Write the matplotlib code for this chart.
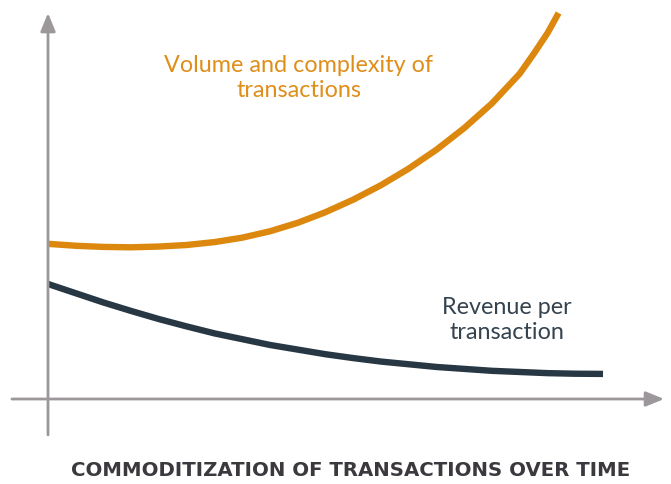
import matplotlib
matplotlib.use("Agg")
import matplotlib.pyplot as plt

# Conceptual curves (time units 0..10, value units 0..10)
vol_t = [0.0, 0.5, 1.0, 1.5, 2.0, 2.5, 3.0, 3.5, 4.0, 4.5, 5.0, 5.5, 6.0,
         6.5, 7.0, 7.5, 8.0, 8.5, 8.75, 9.0, 9.2]
vol_v = [4.02, 3.97, 3.94, 3.93, 3.95, 3.99, 4.065, 4.18, 4.345, 4.565, 4.84,
         5.165, 5.54, 5.97, 6.46, 7.02, 7.66, 8.43, 8.94, 9.48, 10.0]

rev_t = [0.0, 0.5, 1.0, 1.5, 2.0, 2.5, 3.0, 3.5, 4.0, 4.5, 5.0, 5.5, 6.0,
         6.5, 7.0, 7.5, 8.0, 8.5, 9.0, 9.5, 10.0]
rev_v = [2.98, 2.74, 2.50, 2.28, 2.07, 1.88, 1.70, 1.55, 1.40, 1.28, 1.16,
         1.06, 0.97, 0.90, 0.83, 0.78, 0.73, 0.70, 0.67, 0.655, 0.65]

label_volume = "Volume and complexity of\ntransactions"
label_revenue = "Revenue per\ntransaction"
x_title = "COMMODITIZATION OF TRANSACTIONS OVER TIME"

ORANGE = "#DC870E"
DARK = "#273744"
AXIS = "#9B979B"

fig = plt.figure(figsize=(6.71, 4.84), dpi=100)
ax = fig.add_axes([0, 0, 1, 1])
ax.set_xlim(-0.865, 11.225)
ax.set_ylim(-2.202, 10.337)
ax.axis("off")

arrow_style = "-|>,head_length=1.1,head_width=0.45"
ax.annotate("", xy=(0, 10.0), xytext=(0, -0.93),
            arrowprops=dict(arrowstyle=arrow_style, mutation_scale=10,
                            color=AXIS, lw=2.0, shrinkA=0, shrinkB=0))
ax.annotate("", xy=(11.1, 0), xytext=(-0.65, 0),
            arrowprops=dict(arrowstyle=arrow_style, mutation_scale=10,
                            color=AXIS, lw=2.0, shrinkA=0, shrinkB=0))

ax.plot(vol_t, vol_v, color=ORANGE, lw=4.6, solid_capstyle="butt",
        solid_joinstyle="round")
ax.plot(rev_t, rev_v, color=DARK, lw=4.6, solid_capstyle="butt",
        solid_joinstyle="round")

fam = ["Lato", "DejaVu Sans"]
fig.text(299 / 671, 1 - 78 / 484, label_volume, ha="center", va="center",
         color="#DF8E1A", fontsize=16.8, family=fam, weight="normal",
         linespacing=1.2)
fig.text(507 / 671, 1 - 320 / 484, label_revenue, ha="center", va="center",
         color="#35434F", fontsize=16.8, family=fam, weight="normal",
         linespacing=1.2)
fig.text(351 / 671, 1 - 470 / 484, x_title, ha="center", va="center",
         color="#3B383E", fontsize=14.2, family=["DejaVu Sans"], weight="bold")

fig.savefig("out.png", dpi=100)
